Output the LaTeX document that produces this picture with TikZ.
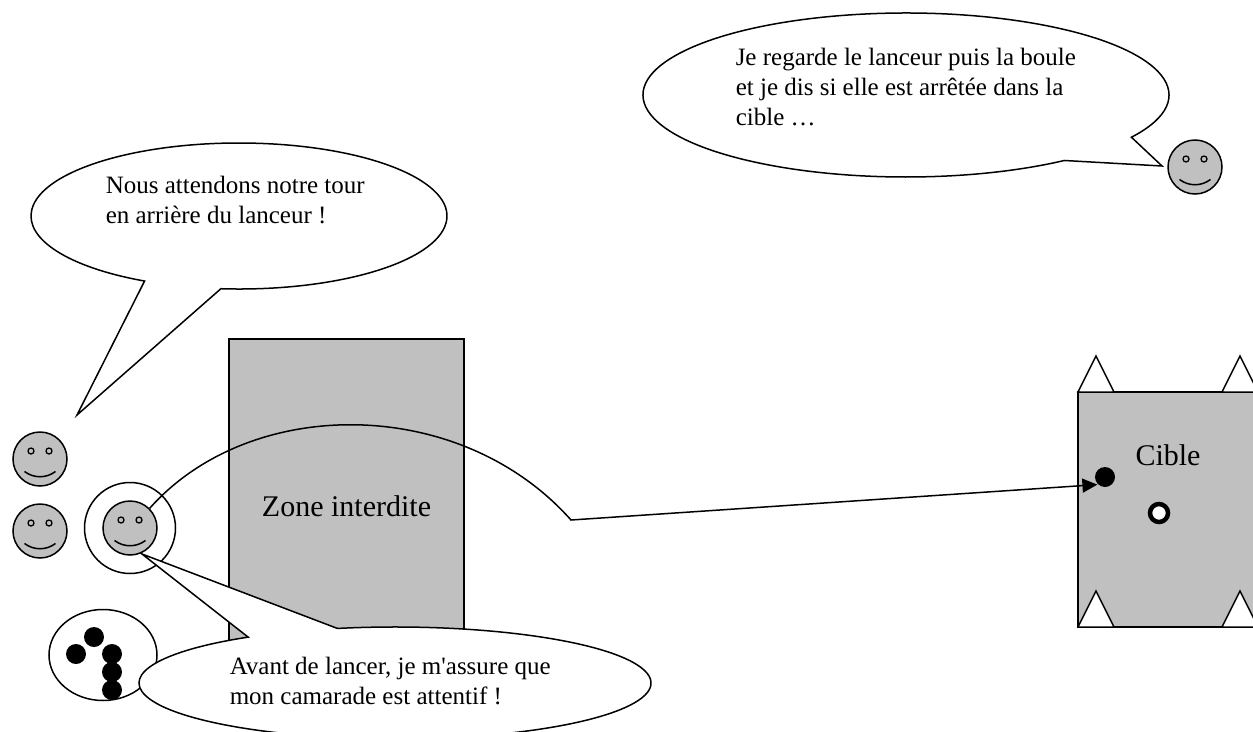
\documentclass[tikz,border=0pt]{standalone}
\usepackage{fontspec}
\setmainfont{Liberation Serif}
\usetikzlibrary{arrows.meta, shapes.geometric}
\definecolor{zonegray}{RGB}{192,192,192}
\tikzstyle{face} = [draw, circle, fill=zonegray, minimum size=54pt, inner sep=0]
\tikzstyle{eye} = [draw, circle, fill=zonegray, line width=1.3pt, minimum size=6pt, inner sep=0]
\tikzstyle{ball} = [circle, fill=black, minimum size=20pt, inner sep=0]
\tikzstyle{bubble} = [draw, fill=white]
\tikzstyle{speech} = [font=\fontsize{25}{30}\selectfont, align=left, anchor=north west, inner sep=0]
\tikzstyle{bigtext} = [font=\fontsize{30}{36}\selectfont]
\newcommand{\smiley}[2]{%
  \begin{scope}[shift={(#2)}]
    \node[face] (#1) at (0,0) {};
    \node[eye] (#1l) at (-9,-8) {};
    \node[eye] (#1r) at (9,-8) {};
    \draw (-15.5,12.5) .. controls (-6,19.5) and (6,19.5) .. (15.5,12.5);
  \end{scope}}

\begin{document}
\begin{tikzpicture}[x=1pt, y=-1pt, line width=1.5pt]
  \clip (0,0) rectangle (1253,731);

  % no-go zone and target
  \node[draw, fill=zonegray, bigtext, minimum width=235pt, minimum height=334pt] (zone) at (346.5,506) {Zone interdite};
  \node[draw, fill=zonegray, minimum width=180pt, minimum height=235pt] (target) at (1168,509.5) {};
  \node[bigtext] (cible) at (1168,455) {Cible};
  \foreach \x in {1078,1222} {
    \draw[fill=white] (\x,392) -- ++(18,-36) -- ++(18,36) -- cycle;
    \draw[fill=white] (\x,627) -- ++(18,-36) -- ++(18,36) -- cycle;
  }
  \node[ball] (hitball) at (1105,477) {};
  \node[draw, circle, fill=white, line width=4.5pt, minimum size=18pt, inner sep=0] (ring) at (1159,513) {};

  % bag of balls
  \node[draw, ellipse, minimum width=108pt, minimum height=91pt, inner sep=0] (bag) at (103,655) {};
  \foreach \n/\x/\y in {a/94/637, b/76/654, c/112/654, d/112/672, e/112/690}
    \node[ball] (bag\n) at (\x,\y) {};

  % thrower
  \node[draw, circle, minimum size=91pt, inner sep=0] (halo) at (130,528) {};

  % speech bubbles
  \draw[bubble] ([shift={(31:263 and 82)}]906,95) arc[start angle=31, end angle=-307, x radius=263, y radius=82] -- (1162,166) -- cycle;
  \draw[bubble] ([shift={(95:208 and 73)}]239,216) arc[start angle=95, end angle=-243, x radius=208, y radius=73] -- (77,415) -- cycle;
  \draw[bubble] ([shift={(-103:256 and 56)}]395,683) arc[start angle=-103, end angle=235, x radius=256, y radius=56] -- (142,554) -- cycle;
  \node[speech] (lookText) at (735,47) {Je regarde le lanceur puis la boule\\et je dis si elle est arrêtée dans la\\cible …};
  \node[speech] (waitText) at (105,175) {Nous attendons notre tour\\en arrière du lanceur !};
  \node[speech] (throwText) at (229,656) {Avant de lancer, je m\textquotesingle assure que\\mon camarade est attentif !};

  % children
  \smiley{waitA}{40,459}
  \smiley{waitB}{40,531}
  \smiley{thrower}{130,528}
  \smiley{judge}{1195,167}

  % ball path
  \coordinate (bend) at (571,520);
  \draw[-{Triangle[length=15pt, width=14pt]}] (thrower.45) .. controls (250,395) and (460,395) .. (bend) -- (hitball.225);
\end{tikzpicture}
\end{document}
